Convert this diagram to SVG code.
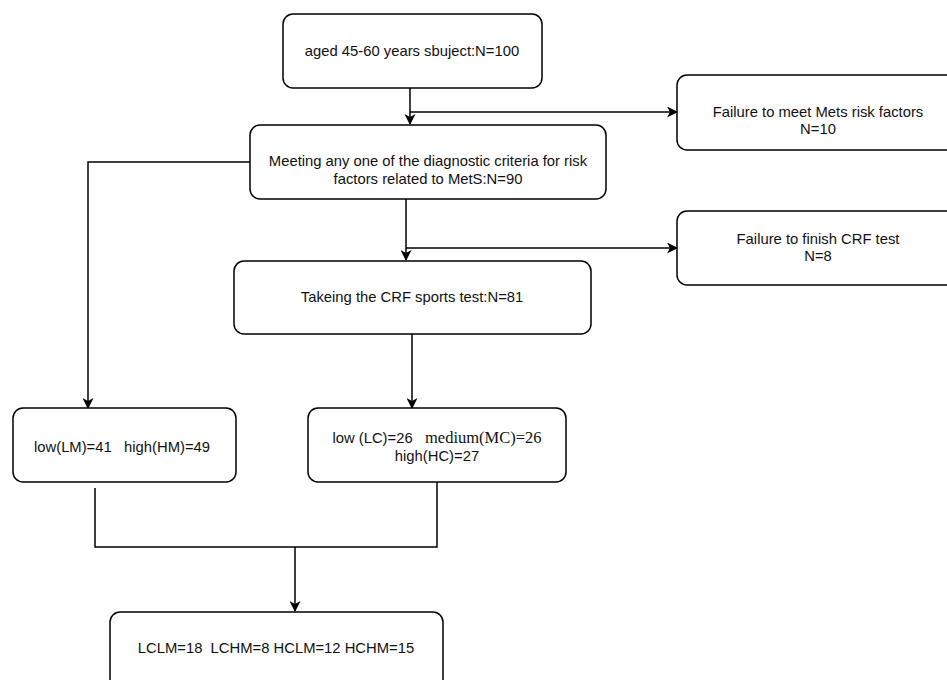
<svg xmlns="http://www.w3.org/2000/svg" width="947" height="680" viewBox="0 0 947 680">
<defs>
<style>
.box{fill:#fff;stroke:#000;stroke-width:1.5}
.t{font-family:"Liberation Sans",Arial,sans-serif;font-size:14.8px;fill:#111;text-anchor:middle}
.s{font-family:"Liberation Serif","Times New Roman",serif;font-size:16.5px}
.c{fill:none;stroke:#000;stroke-width:1.5}
</style>
<marker id="ah" markerWidth="11" markerHeight="11" refX="10" refY="5.5" orient="auto" markerUnits="userSpaceOnUse">
<path d="M0,0 L11,5.5 L0,11 L3,5.5 Z" fill="#000"/>
</marker>
</defs>
<rect width="947" height="680" fill="#fff"/>
<g id="connectors">
<path class="c" d="M410,88 V124" marker-end="url(#ah)"/>
<path class="c" d="M410,112 H677" marker-end="url(#ah)"/>
<path class="c" d="M250,162 H88 V408" marker-end="url(#ah)"/>
<path class="c" d="M406,199 V260" marker-end="url(#ah)"/>
<path class="c" d="M406,248 H677" marker-end="url(#ah)"/>
<path class="c" d="M412,334 V408" marker-end="url(#ah)"/>
<path class="c" d="M95,488 V547 H437 V482"/>
<path class="c" d="M295,547 V611" stroke-width="2.5" marker-end="url(#ah)"/>
</g>
<g id="n1">
<rect class="box" x="283" y="14" width="259" height="74" rx="10"/>
<text class="t" x="412" y="56">aged 45-60 years sbuject:N=100</text>
</g>
<g id="n2">
<rect class="box" x="250" y="125" width="356" height="74" rx="10"/>
<text class="t" x="428" y="166">Meeting any one of the diagnostic criteria for risk</text>
<text class="t" x="428" y="184">factors related to MetS:N=90</text>
</g>
<g id="n3">
<rect class="box" x="677" y="75" width="280" height="75" rx="10"/>
<text class="t" x="818" y="117">Failure to meet Mets risk factors</text>
<text class="t" x="818" y="134">N=10</text>
</g>
<g id="n4">
<rect class="box" x="234" y="261" width="357" height="73" rx="10"/>
<text class="t" x="412" y="302">Takeing the CRF sports test:N=81</text>
</g>
<g id="n5">
<rect class="box" x="677" y="211" width="280" height="74" rx="10"/>
<text class="t" x="818" y="244">Failure to finish CRF test</text>
<text class="t" x="818" y="261">N=8</text>
</g>
<g id="n6">
<rect class="box" x="13" y="408" width="223" height="74" rx="10"/>
<text class="t" x="122" y="452" xml:space="preserve">low(LM)=41   high(HM)=49</text>
</g>
<g id="n7">
<rect class="box" x="308" y="408" width="258" height="74" rx="10"/>
<text class="t" x="437" y="443" xml:space="preserve">low (LC)=26   <tspan class="s">medium(MC)=26</tspan></text>
<text class="t" x="437" y="461">high(HC)=27</text>
</g>
<g id="n8">
<rect class="box" x="110" y="612" width="333" height="80" rx="10"/>
<text class="t" x="276" y="653" xml:space="preserve">LCLM=18  LCHM=8 HCLM=12 HCHM=15</text>
</g>
</svg>
